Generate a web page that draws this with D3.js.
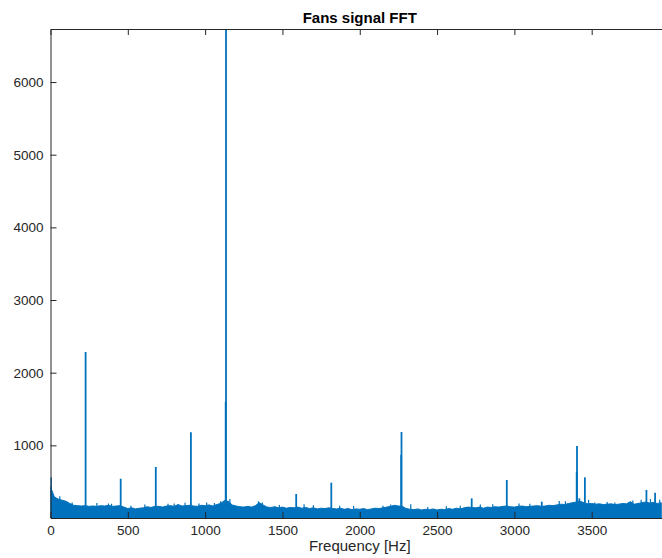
<!DOCTYPE html>
<html>
<head>
<meta charset="utf-8">
<script src="https://cdn.jsdelivr.net/npm/d3@7/dist/d3.min.js"></script>
<style>
  body { margin: 0; background: #fff; }
  .axis text { font-family: "Liberation Sans", Arial, sans-serif; font-size: 13.5px; fill: #262626; }
  .axis path, .axis line { stroke: #262626; }
</style>
</head>
<body>
<div class="fft-plot"></div>
<script>
// noise floor envelope, one reading every 25 Hz starting at 0 Hz
var NOISE_STEP = 25;
var noiseTop = [
  430, 290, 260, 245, 230, 200, 175, 170, 165, 170, 160, 165, 160, 170, 165, 175,
  160, 165, 170, 150, 130, 140, 125, 135, 140, 155, 145, 160, 160, 150, 165, 170,
  160, 185, 165, 170, 175, 165, 160, 175, 170, 180, 165, 185, 200, 240, 230, 180,
  165, 155, 150, 160, 150, 170, 210, 180, 150, 145, 155, 140, 150, 135, 145, 140,
  150, 135, 145, 130, 140, 125, 135, 130, 140, 130, 125, 135, 120, 130, 115, 125,
  120, 130, 115, 125, 135, 130, 140, 150, 160, 175, 165, 160, 130, 120, 115, 125,
  110, 120, 115, 125, 110, 120, 115, 130, 120, 135, 125, 140, 150, 145, 140, 150,
  135, 150, 145, 155, 150, 160, 165, 155, 150, 160, 165, 155, 160, 165, 170, 160,
  165, 175, 170, 180, 190, 185, 200, 210, 220, 230, 210, 195, 200, 190, 195, 185,
  190, 195, 185, 190, 200, 195, 225, 190, 200, 210, 220, 205, 215, 200, 210
];

// small spikes sticking out of the noise floor
var minorFreq = [60, 95, 140, 300, 375, 395, 520, 610, 760, 800, 870, 960, 1010, 1060, 1100, 1160,
                 1345, 1370, 1480, 1640, 1700, 1870, 1960, 2150, 2200, 2330, 2440, 2560, 2650, 2780,
                 2860, 3030, 3100, 3290, 3330, 3480, 3520, 3600, 3650, 3766, 3820, 3880, 3940];
var minorAmp  = [300, 235, 215, 205, 200, 195, 170, 185, 195, 200, 210, 200, 215, 205, 230, 260,
                 230, 215, 180, 190, 175, 170, 165, 170, 185, 190, 150, 160, 170, 185,
                 190, 200, 195, 235, 230, 250, 215, 220, 215, 240, 250, 260, 250];

// tonal lines (harmonics of the fan) : frequency in Hz, magnitude
var peakFreq = [3, 227, 454, 681, 908, 1133, 1135, 1589, 1816, 2268, 2270, 2724, 2951, 3177, 3403, 3405, 3420, 3456, 3854, 3910];
var peakAmp  = [560, 2285, 540, 702, 1180, 1600, 6730, 330, 486, 870, 1183, 271, 523, 225, 637, 990, 270, 560, 385, 348];

var xTicks = [0, 500, 1000, 1500, 2000, 2500, 3000, 3500];
var yTicks = [1000, 2000, 3000, 4000, 5000, 6000];

var DEFAULTS = {
    graph_width: 662,
    graph_height: 558,
    x_max: 4000,
    y_max: 6730,
    line_color: "#0072BD"
};

var margin = {top: 29, left: 50.5, bottom: 40},
    plotRight = 669,
    height = DEFAULTS.graph_height - margin.top - margin.bottom;

var svg = d3.select(".fft-plot").append("svg")
    .attr("width", DEFAULTS.graph_width)
    .attr("height", DEFAULTS.graph_height);

var x = d3.scaleLinear().domain([0, DEFAULTS.x_max]).range([margin.left, plotRight]);
var y = d3.scaleLinear().domain([0, DEFAULTS.y_max]).range([margin.top + height, margin.top]);

svg.append("clipPath")
    .attr("id", "plot-clip")
  .append("rect")
    .attr("x", margin.left)
    .attr("y", margin.top)
    .attr("width", plotRight - margin.left)
    .attr("height", height);

var plot = svg.append("g").attr("clip-path", "url(#plot-clip)");

// noise band
var noise = noiseTop.map(function (v, i) { return {f: i * NOISE_STEP, v: v}; });
var area = d3.area()
    .x(function (d) { return x(d.f); })
    .y0(y(0))
    .y1(function (d) { return y(d.v); });

plot.append("path")
    .datum(noise)
    .attr("d", area)
    .style("fill", DEFAULTS.line_color)
    .style("stroke", DEFAULTS.line_color)
    .style("stroke-width", 1);

function spikes(cls, freqs, amps, w) {
    var data = freqs.map(function (f, i) { return {f: f, a: amps[i]}; });
    plot.selectAll("." + cls)
        .data(data)
        .enter().append("line")
        .attr("class", cls)
        .attr("x1", function (d) { return x(d.f); })
        .attr("x2", function (d) { return x(d.f); })
        .attr("y1", y(0))
        .attr("y2", function (d) { return y(d.a); })
        .style("stroke", DEFAULTS.line_color)
        .style("stroke-width", w);
}

spikes("minor", minorFreq, minorAmp, 1.2);
spikes("peak", peakFreq, peakAmp, 1.8);

// axes
var xAxis = d3.axisBottom(x).tickValues(xTicks).tickSizeInner(-6).tickSizeOuter(0)
    .tickPadding(7).tickFormat(d3.format("d"));
var xTop = d3.axisTop(x).tickValues(xTicks).tickSizeInner(-6).tickSizeOuter(0).tickFormat("");
var yAxis = d3.axisLeft(y).tickValues(yTicks).tickSizeInner(-6).tickSizeOuter(0)
    .tickPadding(7).tickFormat(d3.format("d"));

svg.append("g")
    .attr("class", "x axis")
    .attr("transform", "translate(0," + y(0) + ")")
    .call(xAxis);

svg.append("g")
    .attr("class", "x axis top")
    .attr("transform", "translate(0," + margin.top + ")")
    .call(xTop);

svg.append("g")
    .attr("class", "y axis")
    .attr("transform", "translate(" + margin.left + ",0)")
    .call(yAxis);

// title and label
svg.append("text")
    .attr("x", (margin.left + plotRight) / 2)
    .attr("y", 23)
    .style("text-anchor", "middle")
    .style("font-family", "Liberation Sans, Arial, sans-serif")
    .style("font-size", "15px")
    .style("font-weight", "bold")
    .style("fill", "#000")
    .text("Fans signal FFT");

svg.append("text")
    .attr("x", (margin.left + plotRight) / 2)
    .attr("y", 551)
    .style("text-anchor", "middle")
    .style("font-family", "Liberation Sans, Arial, sans-serif")
    .style("font-size", "15px")
    .style("fill", "#262626")
    .text("Frequency [Hz]");
</script>
</body>
</html>
